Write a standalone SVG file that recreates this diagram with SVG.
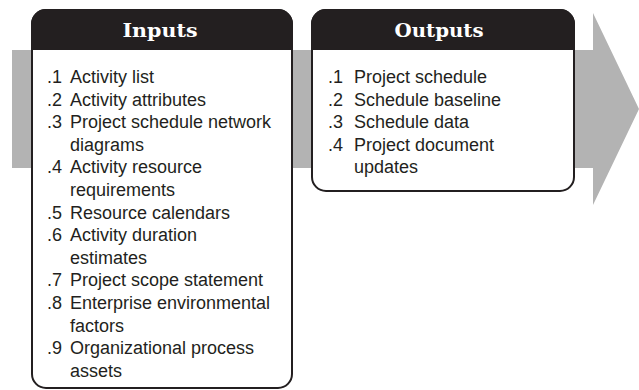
<svg xmlns="http://www.w3.org/2000/svg" width="639" height="390" viewBox="0 0 639 390">
  <style>
    .box { fill: #ffffff; stroke: #231f20; stroke-width: 2; }
    .hdr { fill: #231f20; }
    .htxt { font-family: "DejaVu Serif", "Liberation Serif", serif; font-weight: bold; font-size: 18px; fill: #ffffff; text-anchor: middle; }
    .item { font-family: "Liberation Sans", Arial, sans-serif; font-size: 18px; fill: #231f20; }
    .flow { fill: #b3b3b3; }
  </style>
  <g id="connectors">
    <polygon class="flow" points="12,50 593,50 593,13 639,109 593,205 593,168 12,168"/>
  </g>
  <g id="inputs">
    <rect class="box" x="32" y="10" width="260" height="378" rx="14" ry="14"/>
    <path class="hdr" d="M31,50 V24 A15,15 0 0 1 46,9 H278 A15,15 0 0 1 293,24 V50 Z"/>
    <text class="htxt" x="160" y="37" textLength="75" lengthAdjust="spacingAndGlyphs">Inputs</text>
    <g class="item">
      <text x="47" y="83">.1</text><text x="70" y="83">Activity list</text>
      <text x="47" y="105.6">.2</text><text x="70" y="105.6">Activity attributes</text>
      <text x="47" y="128.2">.3</text><text x="70" y="128.2">Project schedule network</text>
      <text x="70" y="150.8">diagrams</text>
      <text x="47" y="173.4">.4</text><text x="70" y="173.4">Activity resource</text>
      <text x="70" y="196">requirements</text>
      <text x="47" y="218.6">.5</text><text x="70" y="218.6">Resource calendars</text>
      <text x="47" y="241.2">.6</text><text x="70" y="241.2">Activity duration</text>
      <text x="70" y="263.8">estimates</text>
      <text x="47" y="286.4">.7</text><text x="70" y="286.4">Project scope statement</text>
      <text x="47" y="309">.8</text><text x="70" y="309">Enterprise environmental</text>
      <text x="70" y="331.6">factors</text>
      <text x="47" y="354.2">.9</text><text x="70" y="354.2">Organizational process</text>
      <text x="70" y="376.8">assets</text>
    </g>
  </g>
  <g id="outputs">
    <rect class="box" x="312" y="10" width="262" height="181" rx="14" ry="14"/>
    <path class="hdr" d="M311,50 V24 A15,15 0 0 1 326,9 H560 A15,15 0 0 1 575,24 V50 Z"/>
    <text class="htxt" x="439" y="37" textLength="89" lengthAdjust="spacingAndGlyphs">Outputs</text>
    <g class="item">
      <text x="328" y="83">.1</text><text x="354" y="83">Project schedule</text>
      <text x="328" y="105.6">.2</text><text x="354" y="105.6">Schedule baseline</text>
      <text x="328" y="128.2">.3</text><text x="354" y="128.2">Schedule data</text>
      <text x="328" y="150.8">.4</text><text x="354" y="150.8">Project document</text>
      <text x="354" y="173.4">updates</text>
    </g>
  </g>
</svg>
